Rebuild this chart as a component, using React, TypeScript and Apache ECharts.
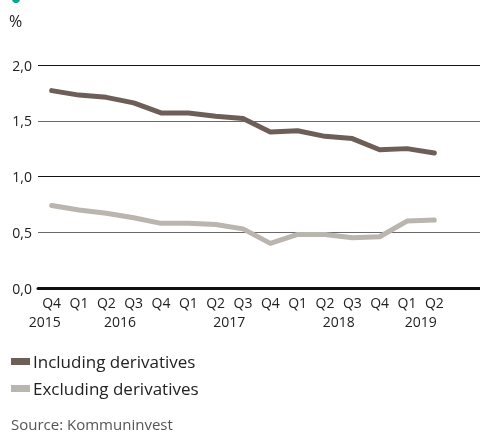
import React, { useEffect, useRef } from "react";
import * as echarts from "echarts";

const quarters = ["Q4", "Q1", "Q2", "Q3", "Q4", "Q1", "Q2", "Q3", "Q4", "Q1", "Q2", "Q3", "Q4", "Q1", "Q2"];
const years = ["2015", "2016", "2017", "2018", "2019"];
// position of each year label, in category index units
const yearPositions = [-0.25, 2.5, 6.5, 10.5, 13.5];
const including = [1.77, 1.73, 1.71, 1.66, 1.57, 1.57, 1.54, 1.52, 1.4, 1.41, 1.36, 1.34, 1.24, 1.25, 1.21];
const excluding = [0.74, 0.7, 0.67, 0.63, 0.58, 0.58, 0.57, 0.53, 0.4, 0.48, 0.48, 0.45, 0.46, 0.6, 0.61];
const seriesNames = ["Including derivatives", "Excluding derivatives"];
const yTicks = { min: 0, max: 2, interval: 0.5 };

const FONT = "'Open Sans', sans-serif";

export default function App() {
  const ref = useRef<HTMLDivElement>(null);
  useEffect(() => {
    if (!ref.current) return;
    const chart = echarts.init(ref.current, null, { renderer: "svg" });
    const fmt = (v: number) => v.toFixed(1).replace(".", ",");
    chart.setOption({
      animation: false,
      textStyle: { fontFamily: FONT },
      grid: [
        { left: 38, right: 0, top: 65, height: 223 },
        { left: 38, width: 410, top: 65, height: 223 },
      ],
      graphic: [
        { type: "circle", shape: { cx: 16, cy: -1, r: 4 }, style: { fill: "#00a98f" } },
        { type: "text", left: 9, top: 13, style: { text: "%", fontSize: 16, fill: "#222", fontFamily: FONT } },
        { type: "text", left: 11, top: 416, style: { text: "Source: Kommuninvest", fontSize: 15, fill: "#555", fontFamily: FONT } },
      ],
      legend: {
        orient: "vertical",
        left: 11,
        top: 353,
        padding: 0,
        itemWidth: 19,
        itemHeight: 7,
        itemGap: 10,
        icon: "rect",
        data: seriesNames,
        textStyle: { fontSize: 17, color: "#222", fontFamily: FONT, padding: [0, 0, 0, -2] },
      },
      xAxis: [
        {
          gridIndex: 0,
          type: "value",
          min: 0,
          max: 1,
          axisLine: { show: true, lineStyle: { color: "#111", width: 3 } },
          axisTick: { show: false },
          axisLabel: { show: false },
          splitLine: { show: false },
        },
        {
          gridIndex: 1,
          type: "category",
          data: quarters,
          boundaryGap: true,
          axisLine: { show: false },
          axisTick: { show: false },
          axisLabel: { fontSize: 14, color: "#222", margin: 7, interval: 0, fontFamily: FONT },
        },
        {
          gridIndex: 1,
          type: "value",
          position: "bottom",
          min: -0.5,
          max: 14.5,
          interval: 0.25,
          axisLine: { show: false },
          axisTick: { show: false },
          splitLine: { show: false },
          axisLabel: {
            fontSize: 14,
            color: "#222",
            margin: 26,
            fontFamily: FONT,
            formatter: (v: number) => {
              const r = Math.round(v * 4) / 4;
              const i = yearPositions.indexOf(r);
              return i >= 0 ? years[i] : "";
            },
          },
        },
      ],
      yAxis: [
        {
          gridIndex: 0,
          type: "value",
          ...yTicks,
          axisLine: { show: false },
          axisTick: { show: false },
          axisLabel: { fontSize: 14, color: "#222", margin: 6, formatter: fmt, fontFamily: FONT },
          splitLine: { show: true, lineStyle: { color: ["#111", "#6a6a6a"], width: 1 } },
        },
        {
          gridIndex: 1,
          type: "value",
          ...yTicks,
          show: false,
          splitLine: { show: false },
        },
      ],
      series: [
        {
          name: seriesNames[0],
          type: "line",
          xAxisIndex: 1,
          yAxisIndex: 1,
          data: including,
          symbol: "none",
          lineStyle: { width: 5, color: "#6d5f58", cap: "round", join: "round" },
          itemStyle: { color: "#6d5f58" },
        },
        {
          name: seriesNames[1],
          type: "line",
          xAxisIndex: 1,
          yAxisIndex: 1,
          data: excluding,
          symbol: "none",
          lineStyle: { width: 5, color: "#bab5af", cap: "round", join: "round" },
          itemStyle: { color: "#bab5af" },
        },
      ],
    });
    return () => chart.dispose();
  }, []);
  return <div ref={ref} style={{ position: "fixed", left: 0, top: 0, width: 480, height: 433 }} />;
}
